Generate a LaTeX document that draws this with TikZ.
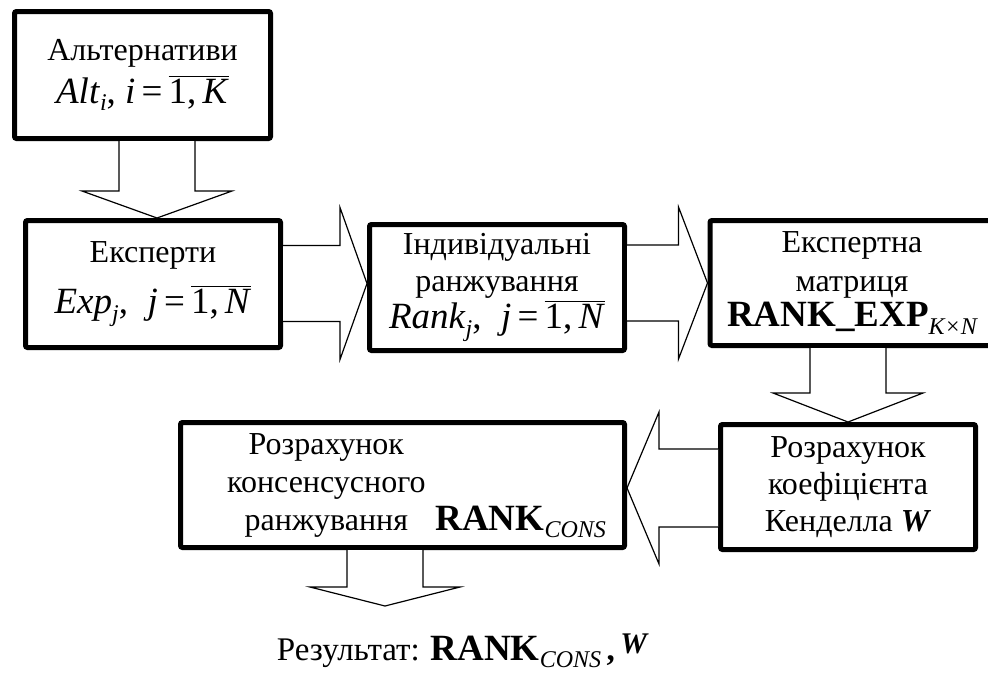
\documentclass[tikz,border=0pt]{standalone}
\usepackage{fontspec}
\setmainfont{Liberation Serif}
\usetikzlibrary{calc, positioning}
\tikzset{
  box/.style={draw, line width=2.5pt, rounded corners=1pt, fill=white,
    align=center, inner sep=0pt, font=\fontsize{16}{18.5}\selectfont},
  blockarrow/.style={draw, line width=0.6pt, fill=white, line join=miter},
}
% subscript lowered below the baseline
\newcommand{\lowsub}[2][4pt]{\raisebox{-#1}{\fontsize{12}{12}\selectfont\itshape #2}}
\newcommand{\ovl}[1]{$\overline{\mbox{#1}}$}
\newcommand{\mathline}[1]{{\fontsize{18.5}{20}\selectfont #1}}
\newcommand{\bigbf}[1]{{\fontsize{18.5}{20}\selectfont\bfseries #1}}

% block arrows: from, to, axis, head length
\newcommand{\blockdown}[4]{%
  \draw[blockarrow] (#3-38,0 |- #1.south) -- ($(#3-38,0 |- #2.north)+(0,-#4)$)
    -- ($(#3-75,0 |- #2.north)+(0,-#4)$) -- (#3,0 |- #2.north)
    -- ($(#3+75,0 |- #2.north)+(0,-#4)$) -- ($(#3+38,0 |- #2.north)+(0,-#4)$)
    -- (#3+38,0 |- #1.south);}
\newcommand{\blockright}[4]{%
  \draw[blockarrow] (#1.east |- 0,#3-38) -- ($(#2.west |- 0,#3-38)+(-#4,0)$)
    -- ($(#2.west |- 0,#3-76)+(-#4,0)$) -- (#2.west |- 0,#3)
    -- ($(#2.west |- 0,#3+76)+(-#4,0)$) -- ($(#2.west |- 0,#3+38)+(-#4,0)$)
    -- (#1.east |- 0,#3+38);}
\newcommand{\blockleft}[4]{%
  \draw[blockarrow] (#1.west |- 0,#3-39) -- ($(#2.east |- 0,#3-39)+(#4,0)$)
    -- ($(#2.east |- 0,#3-76)+(#4,0)$) -- (#2.east |- 0,#3)
    -- ($(#2.east |- 0,#3+76)+(#4,0)$) -- ($(#2.east |- 0,#3+39)+(#4,0)$)
    -- (#1.west |- 0,#3+39);}

\begin{document}
\begin{tikzpicture}[x=0.5pt, y=-0.5pt]
\useasboundingbox (0,0) rectangle (988,675);

% Boxes
\node[box, minimum width=128pt, minimum height=63.5pt] (alt) at (142.5,75)
  {Альтернативи\\[3pt]
   \mathline{\textit{Alt}\lowsub[3.5pt]{i}, \textit{i}\,=\,\ovl{1,\,\textit{K}}}};
\node[box, minimum width=127.5pt, minimum height=63.5pt] (exp) at (153,284)
  {Експерти\\[7pt]
   \mathline{\textit{Exp}\lowsub{j},\; \textit{j}\,=\,\ovl{1,\,\textit{N}}}};
\node[box, minimum width=127.5pt, minimum height=63pt] (ind) at (497,287.5)
  {Індивідуальні\\ранжування\\
   \mathline{\textit{Rank}\lowsub{j},\; \textit{j}\,=\,\ovl{1,\,\textit{N}}}};
\node[box, minimum width=142pt, minimum height=62.5pt] (mat) at (852,283)
  {Експертна\\[1pt]матриця\\[-1pt]
   \bigbf{RANK\_EXP}\lowsub[4pt]{K×N}};
\node[box, minimum width=127.5pt, minimum height=62.5pt] (kend) at (848,487)
  {Розрахунок\\коефіцієнта\\Кенделла \textbf{\textit{W}}};
\node[box, minimum width=222pt, minimum height=62.5pt] (cons) at (402.5,485)
  {\fontsize{16}{19}\selectfont
   \begin{tabular}{@{\hspace{14pt}}c@{\hspace{5pt}}l@{}}
   Розрахунок & \\
   консенсусного & \\
   ранжування & \bigbf{RANK}\lowsub[3.5pt]{CONS}
   \end{tabular}};

% Result
\coordinate (resTip) at (385,606);
\node[font=\fontsize{16.5}{19}\selectfont, anchor=base] (res) at (462,660)
  {Результат: \bigbf{RANK}\lowsub[3.5pt]{CONS}\,\textbf{,}\,\raisebox{3.5pt}{\fontsize{15}{15}\selectfont\bfseries\itshape W}};

% Block arrows
\blockdown{alt}{exp}{157}{27}
\blockright{exp}{ind}{283.5}{27}
\blockright{ind}{mat}{283}{29}
\blockdown{mat}{kend}{848}{29}
\blockleft{kend}{cons}{488}{32}
\draw[blockarrow] (347,0 |- cons.south) -- (347,587) -- (310,587) -- (resTip)
  -- (460,587) -- (423,587) -- (423,0 |- cons.south);

\end{tikzpicture}
\end{document}
